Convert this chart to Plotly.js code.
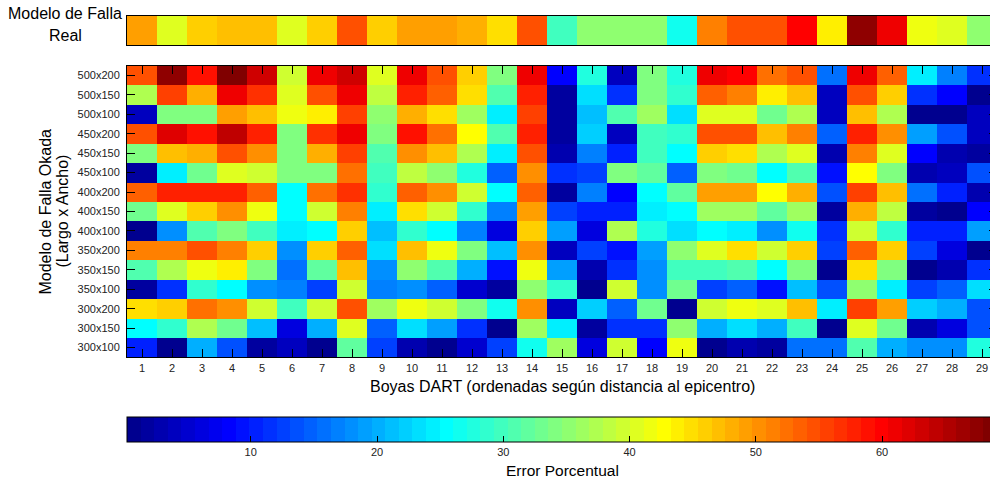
<!DOCTYPE html>
<html>
<head>
<meta charset="utf-8">
<script src="https://cdn.plot.ly/plotly-3.0.1.min.js"></script>
<style>
html,body{margin:0;padding:0;background:#fff;overflow:hidden;}
#plot{width:997px;height:485px;}
</style>
</head>
<body>
<div id="plot"></div>
<script>
// Boyas DART (x categories)
const boyas = Array.from({length:29}, (_, i) => i + 1);
// Modelos de falla Okada (Largo x Ancho), bottom to top
const modelos = ['300x100','300x150','300x200','350x100','350x150','350x200',
                 '400x100','400x150','400x200','450x100','450x150','450x200',
                 '500x100','500x150','500x200'];
// Error porcentual por modelo (boyas 1..29)
const m500x200 = [55,67,59,69.1,63,40,61,63,41,61,55,46,34.5,61,8,27.5,3.5,34.5,27.5,61,59.5,52,54.5,16,61,53,24,17,12];
const m500x150 = [37,56,48.5,61,57,40.5,54.5,60.5,38,58,54,45,31,58,1.5,23.5,11.5,34.5,28.5,54,51,43.5,47,4,55,45.5,11.5,8,1];
const m500x100 = [3.5,34.5,34,49,47.5,42,44,56,35,48,45,36,24,56,1.5,21,31,36.5,23.5,41,41,33,37,4.5,47.5,37.5,1,0.5,4.5];
const m450x200 = [55,62,59,64.5,58,34,57,60.5,34.5,59,52.5,43,31,58,1.5,22,4,29.5,28.5,54.5,54.5,47,51,15,58,50,19,14,4.5];
const m450x150 = [34.5,47,48,55,50,34,48,56,31,50,47,37,24,54.5,3,17,10.5,30,25.5,45.5,45,37,41,2.5,51,41,8,3,1.5];
const m450x100 = [1.5,24,33,41,39,34.5,34.5,52,29.5,38,35,27.5,15,50,11,13,34,32,14.5,34.5,33,25.5,31,9,43,34,3,4,14];
const m400x200 = [54,58,57.5,58,53,26,52,57,28.5,54,50,39,26,54,1.5,17,8,25.5,32,49,49,43,48,14,56,47,16,10.5,2.5];
const m400x150 = [33,41,46,50,42,25.5,40,51,24,45,39.5,28.5,17,49,13,10,10.5,24,25.5,36.5,36.5,31.5,36.5,1.5,48,38,2,0.8,8];
const m400x100 = [1,17.5,31,34,29.5,24.5,25,46,21,28.5,25,17,6,45.5,19.5,6,37,27.5,23.5,25.5,24,17.5,27,11.5,39.5,28.5,10,10.5,19.5];
const m350x200 = [51,51,55,51,45.5,17.5,45.5,53,23.5,47.5,42,34,21,50,4.5,13,9,19.5,35.5,41,44.5,39.5,45.5,13,53,45.5,13,6,0.8];
const m350x150 = [31,37.5,42,43.5,34,15.5,32,47,18.5,35,31,20,9,42,19.5,2.5,12,17.5,29.5,29.5,31,25.5,34,1,45,34.5,0.8,2.5,12];
const m350x100 = [2,11.5,28.5,25.5,18.5,17,13,39.5,17,17.5,15,5,1.5,35.5,29,0.5,39,17.5,33,13,15,9,21,14,35,24,13,15,23.5];
const m300x200 = [45,46,52.5,50,40,29.5,40,55,36,42,40,34,26.5,50,4.2,22,15,33,1,39.5,42,40.5,47,24.5,56,49,22,20,14];
const m300x150 = [26,28.5,37.5,33,21,6,20,40.5,15,23.5,19,12,1,36,24,1.5,12,12,35.5,20.5,23.5,20,30,1,41,33,2.5,6,14];
const m300x100 = [10,1,20.5,14,2,4,0.2,32,13,2.5,1,5,13,26.5,36.5,6,40,8,42,1,3,1.5,16,16,31,20.5,17.5,18.5,27.5];
// Modelo de falla real
const real = [49.5,41,45.5,46.5,46.5,40.5,46,55,45.5,49.5,49.5,48,45,55,29.5,35,35,35.5,27,51,54.5,54.5,59.5,43.5,67.5,61.5,42,40.5,35.5];
// Colorbar ticks
const cbTicks = [10,20,30,40,50,60];

const zMain = [m300x100,m300x150,m300x200,m350x100,m350x150,m350x200,
               m400x100,m400x150,m400x200,m450x100,m450x150,m450x200,
               m500x100,m500x150,m500x200];

// MATLAB jet(64) as a stepped colorscale
function jet(m){
  const n = Math.ceil(m/4);
  const u = [];
  for(let i=1;i<=n;i++) u.push(i/n);
  for(let i=0;i<n-1;i++) u.push(1);
  for(let i=n;i>=1;i--) u.push(i/n);
  const J = Array.from({length:m}, () => [0,0,0]);
  const g0 = Math.ceil(n/2) - (m%4===1?1:0);
  for(let k=0;k<u.length;k++){
    const g = g0 + k + 1, r = g + n, b = g - n;
    if(g<=m) J[g-1][1] = u[k];
    if(r<=m) J[r-1][0] = u[k];
    if(b>=1) J[b-1][2] = u[k];
  }
  return J;
}
const J = jet(64);
const cs = [];
J.forEach((c,i) => {
  const col = 'rgb(' + c.map(v => Math.round(v*255)).join(',') + ')';
  cs.push([i/64, col]);
  cs.push([(i+1)/64, col]);
});

const allVals = zMain.flat().concat(real);
const cmin = Math.min(...allVals), cmax = Math.max(...allVals);

const FONT = 'Liberation Sans, Arial, Helvetica, sans-serif';
const H = 485;
const py = p => 1 - p/H; // pixel from top -> paper y

const traces = [
  {type:'heatmap', x:boyas, y:modelos, z:zMain, coloraxis:'coloraxis',
   xaxis:'x', yaxis:'y', hoverinfo:'x+y+z'},
  {type:'heatmap', x:boyas, y:['Real'], z:[real], coloraxis:'coloraxis',
   xaxis:'x2', yaxis:'y2', hoverinfo:'x+z'}
];

const cbTop = 417.3, cbBot = 442.3;
const shapes = cbTicks.map(v => ({
  type:'line', xref:'paper', yref:'paper',
  x0:(v-cmin)/(cmax-cmin), x1:(v-cmin)/(cmax-cmin),
  y0:py(cbTop), y1:py(cbTop+6), line:{color:'#000', width:1}
}));

const layout = {
  width:997, height:485,
  margin:{l:127, r:0, t:0, b:0, pad:0},
  paper_bgcolor:'#fff', plot_bgcolor:'#fff',
  font:{family:FONT, color:'#222'},
  showlegend:false,
  xaxis:{domain:[0,1], range:[0.5,29.5], tickvals:boyas, ticktext:boyas.map(String),
         ticks:'inside', ticklen:8, tickcolor:'#000', showline:true, linecolor:'#000', linewidth:1,
         mirror:'ticks', showgrid:false, zeroline:false, tickfont:{size:11, color:'#222'}},
  yaxis:{domain:[py(357.3), py(65.7)], type:'category', categoryorder:'array', categoryarray:modelos,
         ticks:'inside', ticklen:8, tickcolor:'#000', showline:true, linecolor:'#000', linewidth:1,
         mirror:'ticks', showgrid:false, zeroline:false, tickfont:{size:11, color:'#222'}, ticklabelstandoff:4},
  xaxis2:{domain:[0,1], anchor:'y2', range:[0.5,29.5], showticklabels:false, ticks:'',
          showline:true, linecolor:'#000', linewidth:1, mirror:true, showgrid:false, zeroline:false},
  yaxis2:{domain:[py(45.3), py(16)], anchor:'x2', showticklabels:false, ticks:'',
          showline:true, linecolor:'#000', linewidth:1, mirror:true, showgrid:false, zeroline:false},
  coloraxis:{colorscale:cs, cmin:cmin, cmax:cmax,
    colorbar:{orientation:'h', x:0.5, xanchor:'center', y:py(cbTop), yanchor:'top',
      len:870, lenmode:'pixels', thickness:25, thicknessmode:'pixels',
      outlinewidth:1, outlinecolor:'#000', xpad:0, ypad:0,
      tickvals:cbTicks, ticktext:cbTicks.map(String), ticks:'inside', ticklen:6, tickcolor:'#000',
      tickfont:{size:11, color:'#222', family:FONT}}},
  shapes:shapes,
  annotations:[
    {text:'Modelo de Falla', xref:'paper', yref:'paper', x:(65-127)/870, y:py(13.3),
     xanchor:'center', yanchor:'middle', showarrow:false, font:{size:16, color:'#000', family:FONT}},
    {text:'Real', xref:'paper', yref:'paper', x:(65-127)/870, y:py(36),
     xanchor:'center', yanchor:'middle', showarrow:false, font:{size:16, color:'#000', family:FONT}},
    {text:'Modelo de Falla Okada', xref:'paper', yref:'paper', x:(45-127)/870, y:py(211.5),
     xanchor:'center', yanchor:'middle', textangle:-90, showarrow:false, font:{size:16, color:'#000', family:FONT}},
    {text:'(Largo x Ancho)', xref:'paper', yref:'paper', x:(62-127)/870, y:py(211.5),
     xanchor:'center', yanchor:'middle', textangle:-90, showarrow:false, font:{size:16, color:'#000', family:FONT}},
    {text:'Boyas DART (ordenadas según distancia al epicentro)', xref:'paper', yref:'paper', x:0.5, y:py(386),
     xanchor:'center', yanchor:'middle', showarrow:false, font:{size:16, color:'#000', family:FONT}},
    {text:'Error Porcentual', xref:'paper', yref:'paper', x:0.5, y:py(470),
     xanchor:'center', yanchor:'middle', showarrow:false, font:{size:15.5, color:'#000', family:FONT}}
  ]
};

Plotly.newPlot('plot', traces, layout, {displayModeBar:false, staticPlot:false, responsive:false});
</script>
</body>
</html>
